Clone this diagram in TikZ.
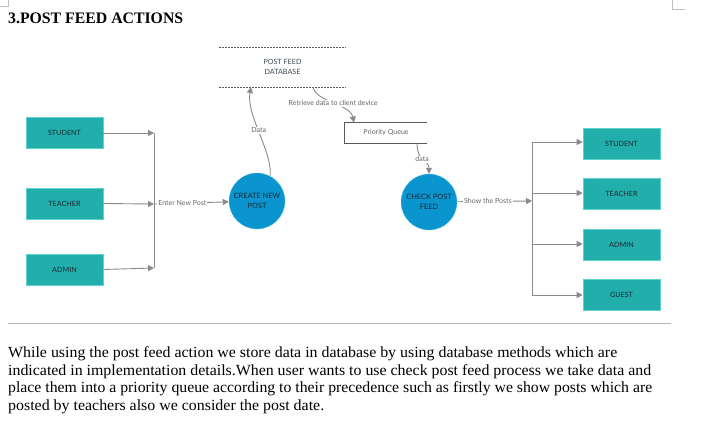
\documentclass[tikz,border=0pt]{standalone}
\usepackage{fontspec}
\setmainfont{Liberation Serif}
\newfontfamily\latofont{Lato}
\usetikzlibrary{arrows.meta}
\definecolor{teal1}{HTML}{22AFAC}
\definecolor{teal2}{HTML}{5CD3CB}
\definecolor{blue1}{HTML}{0B95CF}
\definecolor{blue2}{HTML}{66C2EA}
\definecolor{arrowgray}{HTML}{8A8A8A}
\definecolor{labelgray}{HTML}{646464}
\definecolor{boxtext}{HTML}{1A2833}
\tikzset{
  x=1pt, y=-1pt,
  actor/.style={draw=teal2, line width=0.6pt, fill=teal1, minimum width=77pt, minimum height=31pt, inner sep=0pt, font=\latofont\fontsize{7.2}{8}\selectfont, text=boxtext},
  proc/.style={circle, draw=blue2, dashed, dash pattern=on 1pt off 0.8pt, line width=0.5pt, fill=blue1, minimum size=56pt, inner sep=0pt, align=center, font=\latofont\fontsize{7.4}{9.5}\selectfont, text=boxtext},
  flow/.style={draw=arrowgray, line width=0.9pt, -{Triangle[length=6pt,width=6pt]}},
  plain/.style={draw=arrowgray, line width=0.9pt},
  lbl/.style={fill=white, inner sep=1pt, font=\latofont\fontsize{7}{8}\selectfont, text=labelgray},
  para/.style={anchor=base west, inner sep=0pt, font=\fontsize{15.5}{17}\selectfont},
}
\begin{document}
\begin{tikzpicture}
\useasboundingbox (0,0) rectangle (719,429);
% corner marks
\draw[gray!50, line width=0.6pt] (0,6) -- (8,6) -- (8,0);
\draw[gray!50, line width=0.6pt] (672,0) -- (672,9) -- (685,9);
% title
\node[anchor=base west, inner sep=0pt, font=\bfseries\fontsize{16}{18}\selectfont] (title) at (8,23) {\resizebox{175pt}{\height}{3.POST FEED ACTIONS}};

% left actors
\node[actor] (sL) at (64.5,133) {STUDENT};
\node[actor] (tL) at (64.5,203.5) {TEACHER};
\node[actor] (aL) at (64.5,269.5) {ADMIN};
\coordinate (bs) at (154,133);
\coordinate (bt) at (154,204);
\coordinate (ba) at (154,268);
\draw[plain] (bs) -- (ba);
\draw[flow] (sL) -- (bs);
\draw[flow] (tL.east) -- (bt);
\draw[flow] (aL.east) -- (ba);

% processes
\node[proc] (create) at (257,201) {CREATE NEW\\POST};
\node[proc] (check) at (429,202) {CHECK POST\\FEED};
\draw[flow] (bt) -- node[lbl, pos=0.38] {Enter New Post} (create);

% database
\node[minimum width=127pt, minimum height=40pt, inner sep=0pt, align=center, font=\latofont\fontsize{7.2}{9.5}\selectfont, text=boxtext!85] (db) at (282.5,67) {POST FEED\\DATABASE};
\draw[draw=black!65, line width=0.5pt, dash pattern=on 2pt off 1pt] (db.north west) -- (db.north east);
\draw[draw=black!65, line width=0.5pt, dash pattern=on 2pt off 1pt] (db.south west) -- (db.south east);
\coordinate (dbin) at (251,87);
\coordinate (dbout) at (313,87);

% priority queue
\node[minimum width=82pt, minimum height=21pt, inner sep=0pt, font=\latofont\fontsize{7}{8}\selectfont, text=labelgray] (pq) at (386,133) {Priority Queue};
\draw[draw=black!65, line width=0.9pt] (pq.north east) -- (pq.north west) -- (pq.south west) -- (pq.south east);
\coordinate (pqin) at (354,122.5);
\coordinate (pqout) at (417,143.5);

% curved flows
\draw[flow] (create.62) .. controls (272,150) and (246,115) .. node[lbl, pos=0.52] {Data} (dbin);
\draw[flow] (dbout) .. controls (316,102) and (350,104) .. node[lbl, pos=0.5] {Retrieve data to client device} (pqin);
\draw[flow] (pqout) .. controls (417,162) and (429,160) .. node[lbl, pos=0.45] {data} (check.north);

% right actors
\node[actor] (sR) at (621.5,143.5) {STUDENT};
\node[actor] (tR) at (621.5,193.5) {TEACHER};
\node[actor] (aR) at (621.5,244.5) {ADMIN};
\node[actor] (gR) at (621.5,294.5) {GUEST};
\coordinate (rb0) at (532,201);
\coordinate (rs) at (532,142);
\coordinate (rt) at (532,193);
\coordinate (ra) at (532,244);
\coordinate (rg) at (532,295);
\draw[plain] (rs) -- (rg);
\draw[flow] (check) -- node[lbl, pos=0.41] {Show the Posts} (rb0);
\draw[flow] (rs) -- (rs -| sR.west);
\draw[flow] (rt) -- (rt -| tR.west);
\draw[flow] (ra) -- (ra -| aR.west);
\draw[flow] (rg) -- (rg -| gR.west);

% separator
\draw[gray!55, line width=0.8pt] (8,323) -- (671,323);

% paragraph
\node[para] (p1) at (8,357.5) {\resizebox{609pt}{\height}{While using the post feed action we store data in database by using database methods which are}};
\node[para] (p2) at (8,375) {\resizebox{643pt}{\height}{indicated in implementation details.When user wants to use check post feed process we take data and}};
\node[para] (p3) at (8,392.5) {\resizebox{644pt}{\height}{place them into a priority queue according to their precedence such as firstly we show posts which are}};
\node[para] (p4) at (8,410) {\resizebox{316pt}{\height}{posted by teachers also we consider the post date.}};
\end{tikzpicture}
\end{document}
